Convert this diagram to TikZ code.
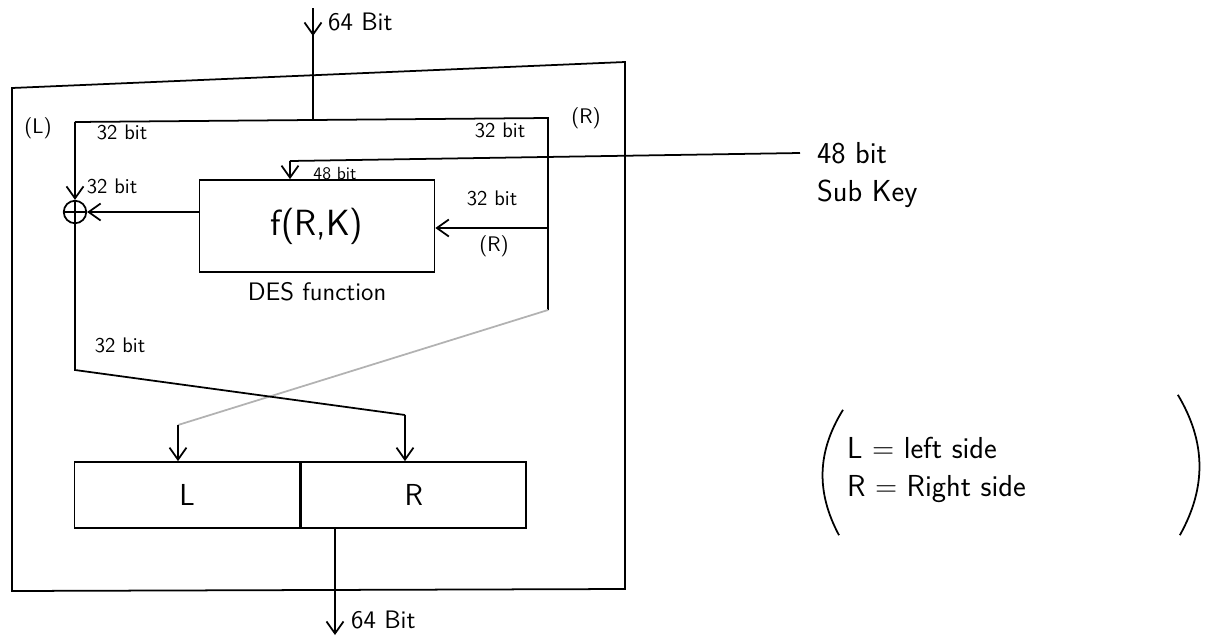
\documentclass[tikz,border=0pt]{standalone}
\usepackage{tikz}
\usetikzlibrary{arrows.meta,positioning,calc}

\begin{document}
\begin{tikzpicture}[
    x=0.02cm, y=-0.02cm,
    wire/.style={draw=black, line width=1pt},
    fadewire/.style={draw=black!30, line width=1pt},
    flow/.style={wire, -{Straight Barb[length=2.4mm,width=3.4mm]}},
    funcbox/.style={
        rectangle, draw, line width=1pt,
        minimum width=4.7cm, minimum height=1.84cm,
        font=\huge\sffamily
    },
    halfbox/.style={
        rectangle, draw, line width=1pt,
        minimum width=4.5cm, minimum height=1.32cm,
        font=\LARGE\sffamily
    },
    xorgate/.style={
        circle, draw, line width=1pt, minimum size=0.45cm, inner sep=0pt,
        path picture={
            \draw[line width=0.8pt] (path picture bounding box.north) -- (path picture bounding box.south);
            \draw[line width=0.8pt] (path picture bounding box.west) -- (path picture bounding box.east);
        }
    },
    bitlabel/.style={font=\large\sffamily, inner sep=1pt},
    biglabel/.style={font=\LARGE\sffamily, inner sep=1pt, align=left}
]
    \useasboundingbox (0,0) rectangle (1215,640);

    % outer frame of the round
    \draw[wire] (12,88) -- (625,62) -- (625,589) -- (12,591) -- cycle;

    % blocks
    \node[funcbox] (fbox) at (317,226) {f(R,K)};
    \node[font=\Large\sffamily, below=2pt of fbox] (desname) {DES function};
    \node[xorgate] (xor) at (75,212) {};
    \node[halfbox] (lbox) at (187,495) {L};
    \node[halfbox, right=0pt of lbox] (rbox) {R};

    % turning points
    \coordinate (intop) at (313,8);
    \coordinate (split) at (313,121);
    \coordinate (ltop) at (75,122);
    \coordinate (rtop) at (548,118);
    \coordinate (rmid) at (548,228);
    \coordinate (rturn) at (548,310);
    \coordinate (lbend) at (178,425);
    \coordinate (lcross) at (75,370);
    \coordinate (rbend) at (405,415);
    \coordinate (keyend) at (800,153);
    \coordinate (keydrop) at (290,161);
    \coordinate (outend) at (335,635);

    % input and split
    \draw[wire] (intop) -- (split);
    \draw[flow] (intop) -- (313,36);
    \draw[wire] (ltop) -- (rtop) -- (rturn);
    \draw[flow] (ltop) -- (xor.north);

    % f function
    \draw[flow] (rmid) -- (fbox.east |- rmid);
    \draw[flow] (fbox.west |- xor.east) -- (xor.east);
    \draw[wire] (keyend) -- (keydrop);
    \draw[flow] (keydrop) -- (keydrop |- fbox.north);

    % swap
    \draw[fadewire] (rturn) -- (lbend);
    \draw[flow] (lbend) -- (lbend |- lbox.north);
    \draw[wire] (xor.south) -- (lcross) -- (rbend);
    \draw[flow] (rbend) -- (rbend |- rbox.north);

    % output
    \draw[flow] (rbox.south -| outend) -- (outend);

    % labels
    \node[font=\Large\sffamily, anchor=west] (inlabel) at (322,22) {64 Bit};
    \node[font=\Large\sffamily, anchor=west] (outlabel) at (345,620) {64 Bit};
    \node[bitlabel] (lname) at (38,128) {(L)};
    \node[bitlabel] (rname) at (586,118) {(R)};
    \node[bitlabel] (ltopbit) at (122,132) {32 bit};
    \node[bitlabel] (rtopbit) at (500,130) {32 bit};
    \node[bitlabel, font=\sffamily] (keybit) at (335,174) {48 bit};
    \node[bitlabel] (xorbit) at (112,186) {32 bit};
    \node[bitlabel] (rinbit) at (492,198) {32 bit};
    \node[bitlabel] (rinname) at (494,246) {(R)};
    \node[bitlabel] (downbit) at (120,345) {32 bit};
    \node[biglabel, anchor=north west] (subkey) at (815,140) {48 bit\\Sub Key};
    \node[biglabel, anchor=west] (legend) at (845,470) {L = left side\\R = Right side};
    \draw[wire] ($(legend.north west)+(-2,-25)$)
        to[bend right=30] ($(legend.south west)+(-6,30)$);
    \draw[wire] ($(legend.north east)+(150,-40)$)
        to[bend left=30] ($(legend.south east)+(152,30)$);
\end{tikzpicture}
\end{document}
